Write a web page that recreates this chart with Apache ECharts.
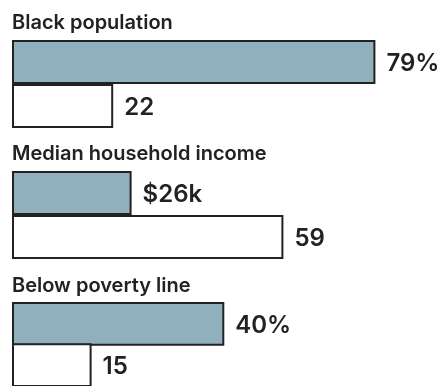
<!DOCTYPE html>
<html>
<head>
<meta charset="utf-8">
<script src="https://cdn.jsdelivr.net/npm/echarts@6/dist/echarts.min.js"></script>
<style>
  html, body { margin: 0; padding: 0; background: #fff; }
  #chart { width: 439px; height: 386px; }
</style>
</head>
<body>
<div id="chart"></div>
<script>
// one panel per measure, blue = the area, white = comparison
const panelTitles = ['Black population', 'Median household income', 'Below poverty line'];
const areaValues = [79, 26, 40];
const compareValues = [22, 59, 15];
const prefixes = ['', '$', ''];
const suffixes = ['%', 'k', '%'];
const rows = ['area', 'compare'];

const tops = [40, 171, 303];
const axisMax = [90, 90, 78];
const font = 'Inter, "Liberation Sans", sans-serif';

const chart = echarts.init(document.getElementById('chart'));

const option = {
  animation: false,
  title: panelTitles.map((t, i) => ({
    text: t,
    left: 7,
    top: tops[i] - 32,
    textStyle: { fontFamily: font, fontSize: 20, fontWeight: 600, color: '#222' }
  })),
  grid: tops.map(t => ({ left: 12, top: t, width: 414, height: 88 })),
  xAxis: tops.map((t, i) => ({ type: 'value', gridIndex: i, min: 0, max: axisMax[i], show: false })),
  yAxis: tops.map((t, i) => ({ type: 'category', gridIndex: i, data: rows, inverse: true, show: false })),
  series: panelTitles.map((t, i) => ({
    type: 'bar',
    xAxisIndex: i,
    yAxisIndex: i,
    barWidth: 44,
    data: [
      { value: areaValues[i], itemStyle: { color: '#8fb0bc' },
        label: { formatter: prefixes[i] + areaValues[i] + suffixes[i] } },
      { value: compareValues[i], itemStyle: { color: '#fff' } }
    ],
    itemStyle: { borderColor: '#222', borderWidth: 2 },
    label: {
      show: true,
      position: 'right',
      distance: 11,
      offset: [0, 2],
      fontFamily: font,
      fontSize: 24,
      fontWeight: 600,
      color: '#222'
    }
  }))
};

chart.setOption(option);
</script>
</body>
</html>
